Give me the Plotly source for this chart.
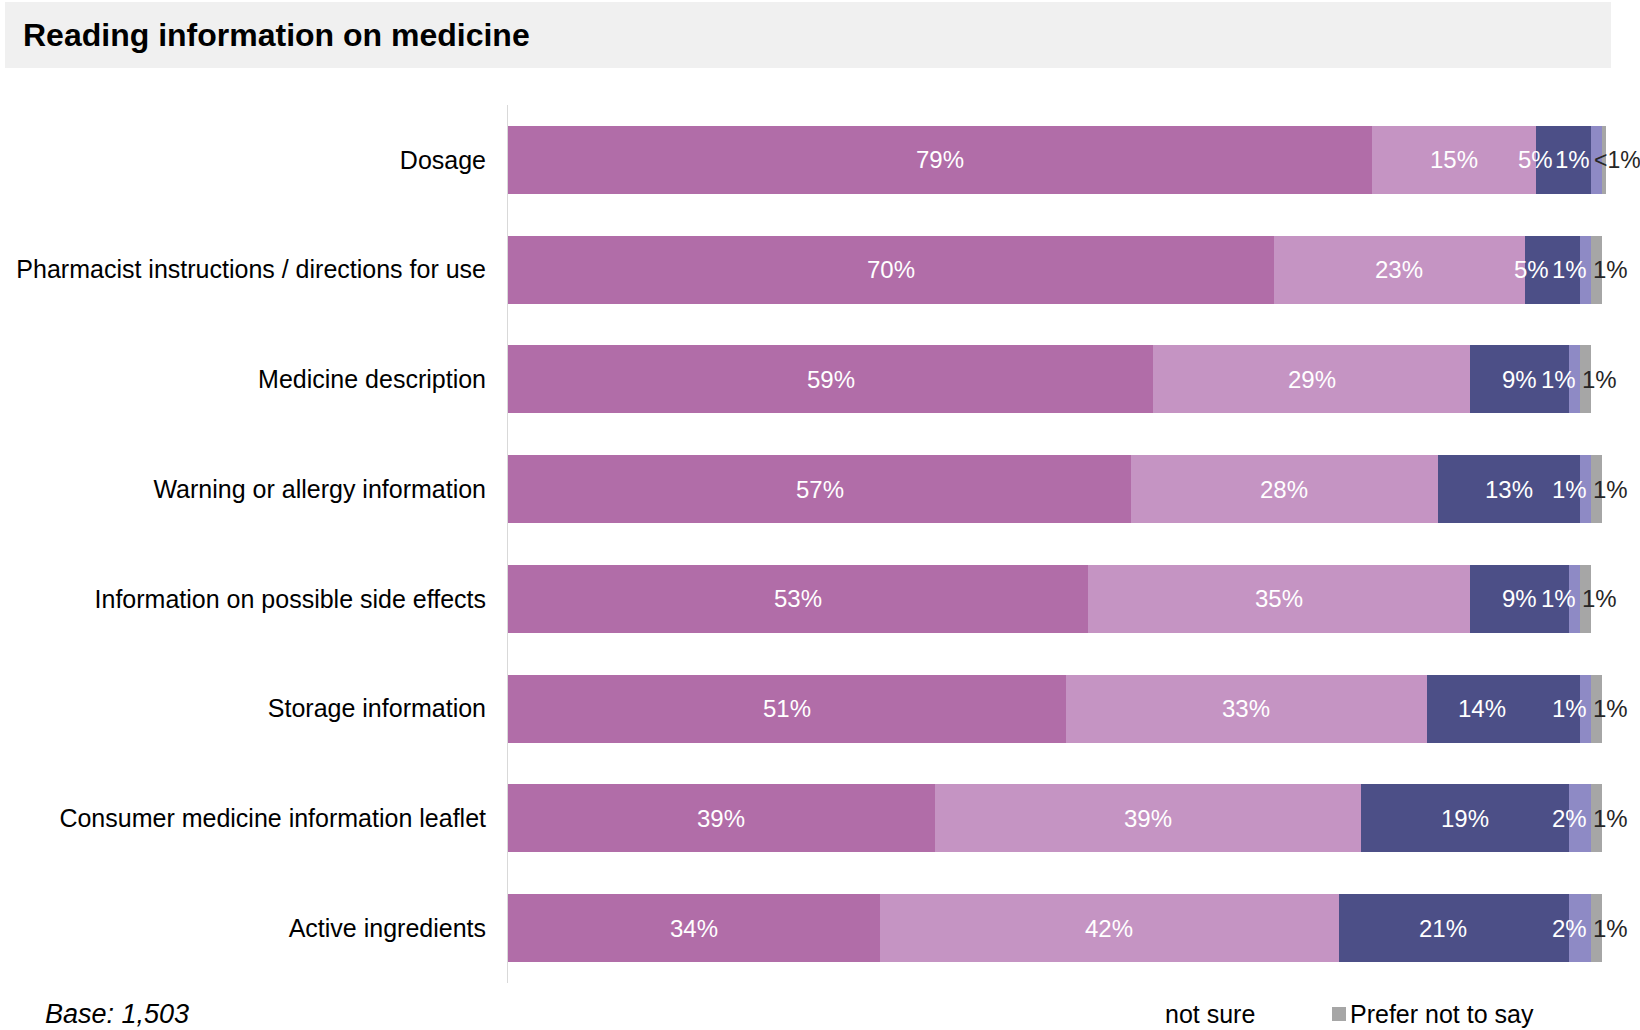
import plotly.graph_objects as go

# Survey results: how often respondents read each type of information on medicine
categories = [
    "Dosage",
    "Pharmacist instructions / directions for use",
    "Medicine description",
    "Warning or allergy information",
    "Information on possible side effects",
    "Storage information",
    "Consumer medicine information leaflet",
    "Active ingredients",
]
series_names = ["Always", "Sometimes", "Never", "Don't know / not sure", "Prefer not to say"]
always = [79, 70, 59, 57, 53, 51, 39, 34]
sometimes = [15, 23, 29, 28, 35, 33, 39, 42]
never = [5, 5, 9, 13, 9, 14, 19, 21]
unsure = [1, 1, 1, 1, 1, 1, 2, 2]
prefer_not = [0.4, 1, 1, 1, 1, 1, 1, 1]
base_note = "Base: 1,503"
title_text = "Reading information on medicine"

series = [always, sometimes, never, unsure, prefer_not]
colors = ["#B16DA8", "#C594C3", "#4C4F87", "#8E8AC5", "#A6A6A6"]

W, H = 1640, 1030
L, R, T, B = 508, 34, 105, 47
PW, PH = W - L - R, H - T - B
FONT = "Liberation Sans, Arial, sans-serif"

x_max = max(sum(row) for row in zip(*series))


def px(x):
    return (x - L) / PW


def py(y):
    return (H - B - y) / PH


def label(v):
    return "<1%" if v < 1 else f"{v:g}%"


fig = go.Figure()
for name, vals, col in zip(series_names, series, colors):
    fig.add_trace(go.Bar(
        y=categories, x=vals, name=name, orientation="h",
        marker=dict(color=col, line=dict(width=0)),
        hovertemplate="%{y}: %{x}%<extra>" + name + "</extra>",
    ))

# per-row horizontal nudges (px) for the crowded labels at the right end
never_nudge = [-28, -21, 0, 0, 0, -21, 0, -11]
unsure_nudge = [-8, 0, 0, 0, 0, 0, 0, 0]
last_nudge = [-10, 0, 0, 0, 0, 0, 0, 0]

annotations = []
for i, cat in enumerate(categories):
    start = 0
    for s, vals in enumerate(series):
        v = vals[i]
        mid = start + v / 2
        if s < 3:
            annotations.append(dict(
                x=mid, y=cat, xref="x", yref="y", text=label(v), showarrow=False,
                xanchor="center", yanchor="middle",
                xshift=never_nudge[i] if s == 2 else 0,
                font=dict(family=FONT, size=24, color="#FFFFFF")))
        elif s == 3:
            annotations.append(dict(
                x=start + v, y=cat, xref="x", yref="y", text=label(v), showarrow=False,
                xanchor="right", yanchor="middle", xshift=-2 + unsure_nudge[i],
                font=dict(family=FONT, size=24, color="#FFFFFF")))
        else:
            annotations.append(dict(
                x=start, y=cat, xref="x", yref="y", text=label(v), showarrow=False,
                xanchor="left", yanchor="middle", xshift=last_nudge[i],
                font=dict(family=FONT, size=23 if v < 1 else 24, color="#262626")))
        start += v

# heading, footnote and partial legend
annotations += [
    dict(x=px(21), y=py(35), xref="paper", yref="paper", text="<b>" + title_text + "</b>",
         showarrow=False, xanchor="left", yanchor="middle",
         font=dict(family=FONT, size=32, color="#000000")),
    dict(x=px(43), y=py(1014), xref="paper", yref="paper", text="<i>" + base_note + "</i>",
         showarrow=False, xanchor="left", yanchor="middle",
         font=dict(family=FONT, size=27, color="#000000")),
    dict(x=px(1163), y=py(1014), xref="paper", yref="paper", text="not sure",
         showarrow=False, xanchor="left", yanchor="middle",
         font=dict(family=FONT, size=25, color="#000000")),
    dict(x=px(1348), y=py(1014), xref="paper", yref="paper", text=series_names[4],
         showarrow=False, xanchor="left", yanchor="middle",
         font=dict(family=FONT, size=25, color="#000000")),
]

shapes = [
    dict(type="rect", xref="paper", yref="paper", x0=px(5), x1=px(1611), y0=py(68), y1=py(2),
         fillcolor="#F0F0F0", line=dict(width=0), layer="below"),
    dict(type="rect", xref="paper", yref="paper", x0=px(1332), x1=px(1346), y0=py(1021), y1=py(1007),
         fillcolor=colors[4], line=dict(width=0)),
]

fig.update_layout(
    width=W, height=H, autosize=False,
    margin=dict(l=L, r=R, t=T, b=B, pad=0),
    barmode="stack", bargap=0.38,
    plot_bgcolor="#FFFFFF", paper_bgcolor="#FFFFFF",
    showlegend=False,
    annotations=annotations, shapes=shapes,
    font=dict(family=FONT, size=24, color="#000000"),
    xaxis=dict(range=[0, x_max], visible=False, fixedrange=True),
    yaxis=dict(autorange="reversed", showline=True, linecolor="#D9D9D9", linewidth=1,
               ticks="outside", ticklen=16, tickcolor="rgba(0,0,0,0)",
               showgrid=False, zeroline=False,
               tickfont=dict(family=FONT, size=25, color="#000000")),
)

fig.write_html("out.html")
